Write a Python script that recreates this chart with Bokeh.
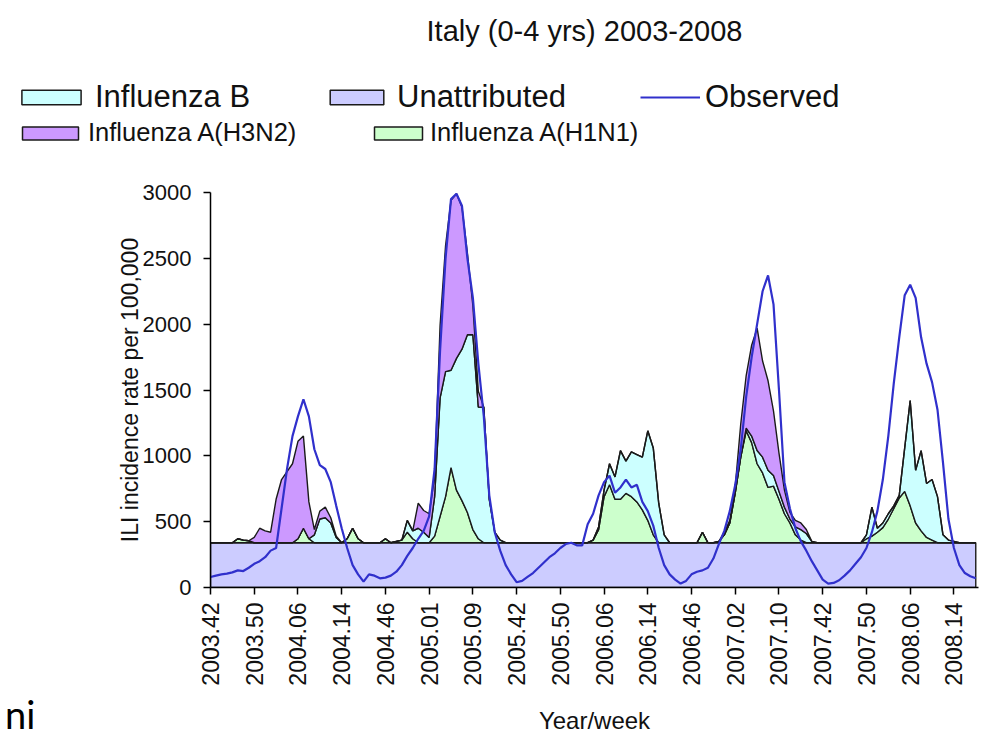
import numpy as np
from bokeh.plotting import figure
from bokeh.layouts import column, row
from bokeh.models import Range1d, FixedTicker, Legend, LegendItem, Label, Div
from bokeh.embed import file_html
from bokeh.resources import INLINE

# ---------------- data (ILI incidence per 100,000, weekly, seasons wk42-wk17) ----------------
tick_labels = ["2003.42", "2003.50", "2004.06", "2004.14", "2004.46", "2005.01",
               "2005.09", "2005.42", "2005.50", "2006.06", "2006.14", "2006.46",
               "2007.02", "2007.10", "2007.42", "2007.50", "2008.06", "2008.14"]
weeks_per_tick = 8

observed = [
    80, 90, 100, 105, 115, 130, 125, 150, 180, 200,
    230, 280, 300, 600, 900, 1150, 1300, 1430, 1300, 1050,
    930, 900, 800, 620, 450, 300, 170, 100, 45, 100,
    90, 70, 75, 90, 120, 170, 240, 300, 370, 430,
    540, 900, 1800, 2500, 2950, 2990, 2900, 2500, 2200, 1700,
    1300, 700, 420, 280, 170, 100, 40, 50, 80, 110,
    150, 190, 230, 260, 300, 330, 340, 320, 320, 480,
    560, 700, 800, 850, 720, 760, 820, 760, 780, 650,
    580, 470, 300, 170, 100, 60, 30, 50, 100, 120,
    130, 150, 220, 330, 430, 580, 780, 1050, 1450, 1750,
    2000, 2250, 2370, 2150, 1500, 800, 600, 450, 350, 280,
    200, 130, 60, 30, 35, 55, 90, 130, 180, 230,
    300, 420, 580, 820, 1150, 1550, 1900, 2220, 2300, 2200,
    1900, 1700, 1560, 1350, 950, 520, 300, 170, 110, 85,
    70]

unattributed = [
    340, 340, 340, 340, 340, 340, 340, 340, 340, 340,
    340, 340, 340, 340, 340, 340, 340, 340, 340, 340,
    340, 340, 340, 340, 340, 340, 340, 340, 340, 340,
    340, 340, 340, 340, 340, 340, 340, 340, 340, 340,
    340, 340, 340, 340, 340, 340, 340, 340, 340, 340,
    340, 340, 340, 340, 340, 340, 340, 340, 340, 340,
    340, 340, 340, 340, 340, 340, 340, 340, 340, 340,
    340, 340, 340, 340, 340, 340, 340, 340, 340, 340,
    340, 340, 340, 340, 340, 340, 340, 340, 340, 340,
    340, 340, 340, 340, 340, 340, 340, 340, 340, 340,
    340, 340, 340, 340, 340, 340, 340, 340, 340, 340,
    340, 340, 340, 340, 340, 340, 340, 340, 340, 340,
    340, 340, 340, 340, 340, 340, 340, 340, 340, 340,
    340, 340, 340, 340, 340, 340, 340, 340, 340, 340,
    340]

h1n1 = [
    0, 0, 0, 0, 0, 30, 20, 15, 0, 0,
    0, 0, 0, 0, 0, 0, 30, 110, 30, 0,
    0, 0, 0, 0, 0, 30, 110, 30, 0, 0,
    0, 0, 30, 0, 10, 20, 80, 30, 0, 0,
    0, 50, 200, 350, 570, 400, 320, 230, 100, 30,
    0, 0, 0, 0, 0, 0, 0, 0, 0, 0,
    0, 0, 0, 0, 0, 0, 0, 0, 0, 0,
    20, 100, 350, 440, 330, 330, 375, 350, 310, 250,
    170, 60, 0, 0, 0, 0, 0, 0, 0, 0,
    80, 0, 0, 10, 60, 150, 380, 650, 850, 760,
    600, 530, 420, 430, 330, 220, 150, 60, 20, 0,
    0, 0, 0, 0, 0, 0, 0, 0, 0, 0,
    30, 50, 80, 115, 180, 260, 340, 390, 280, 150,
    90, 40, 20, 0, 0, 0, 0, 0, 0, 0,
    0]

influenza_b = [
    0, 0, 0, 0, 0, 0, 0, 0, 0, 0,
    0, 0, 0, 0, 0, 0, 0, 0, 0, 60,
    180, 190, 150, 40, 0, 0, 0, 0, 0, 0,
    0, 0, 0, 0, 0, 0, 90, 60, 110, 80,
    40, 300, 900, 950, 740, 1000, 1150, 1350, 1480, 1000,
    1030, 330, 80, 20, 0, 0, 0, 0, 0, 0,
    0, 0, 0, 0, 0, 0, 0, 0, 0, 0,
    0, 20, 50, 160, 170, 370, 245, 340, 360, 400,
    680, 660, 300, 60, 0, 0, 0, 0, 0, 0,
    0, 0, 0, 0, 0, 0, 0, 0, 20, 50,
    100, 120, 130, 80, 60, 50, 30, 60, 80, 70,
    10, 0, 0, 0, 0, 0, 0, 0, 0, 0,
    30, 220, 30, 35, 40, 20, 20, 330, 800, 400,
    610, 410, 460, 350, 60, 20, 10, 0, 0, 0,
    0]

h3n2 = [
    0, 0, 0, 0, 0, 0, 0, 0, 40, 110,
    90, 80, 330, 480, 540, 600, 740, 700, 280, 40,
    60, 80, 40, 10, 0, 0, 0, 0, 0, 0,
    0, 0, 0, 0, 0, 0, 0, 0, 190, 165,
    180, 150, 550, 955, 1290, 1250, 1080, 620, 220, 120,
    0, 0, 0, 0, 0, 0, 0, 0, 0, 0,
    0, 0, 0, 0, 0, 0, 0, 0, 0, 0,
    0, 0, 0, 0, 0, 0, 0, 0, 0, 0,
    0, 0, 0, 0, 0, 0, 0, 0, 0, 0,
    0, 0, 0, 0, 20, 20, 50, 250, 400, 690,
    930, 730, 680, 490, 290, 130, 50, 50, 50, 30,
    0, 0, 0, 0, 0, 0, 0, 0, 0, 0,
    0, 0, 0, 0, 0, 0, 0, 0, 0, 0,
    0, 0, 0, 0, 0, 0, 0, 0, 0, 0,
    0]

# ---------------- styles ----------------
FONT = "Liberation Sans"
TXT = "#111111"
OUTLINE = "#1a1a1a"
colors = {"Unattributed": "#ccccff", "Influenza A(H1N1)": "#ccffcc",
          "Influenza B": "#ccffff", "Influenza A(H3N2)": "#cc99ff"}
OBS_COLOR = "#3030cc"

HEAD_H = 170
MAIN_H = 747 - HEAD_H
STRIP_W = 60

# ---------------- main chart ----------------
n = len(observed)
weeks = np.arange(n)

p = figure(width=987 - STRIP_W, height=MAIN_H, x_range=Range1d(0, 140.5), y_range=Range1d(0, 3000),
           output_backend="svg", toolbar_location=None,
           min_border_left=150, min_border_right=9, min_border_top=192 - HEAD_H,
           min_border_bottom=160)
p.outline_line_color = None
p.grid.visible = False

layers = [("Unattributed", unattributed), ("Influenza A(H1N1)", h1n1),
          ("Influenza B", influenza_b), ("Influenza A(H3N2)", h3n2)]
base = np.zeros(n)
for name, vals in layers:
    top = base + np.asarray(vals, dtype=float)
    xs = np.concatenate([weeks, weeks[::-1]])
    ys = np.concatenate([top, base[::-1]])
    p.patch(xs, ys, fill_color=colors[name], line_color=OUTLINE, line_width=1.4)
    base = top
p.line(weeks, observed, line_color=OBS_COLOR, line_width=2.2)

p.xaxis.ticker = FixedTicker(ticks=[i * weeks_per_tick for i in range(len(tick_labels))])
p.xaxis.major_label_overrides = {i * weeks_per_tick: t for i, t in enumerate(tick_labels)}
p.xaxis.major_label_orientation = np.pi / 2
p.yaxis.ticker = FixedTicker(ticks=[0, 500, 1000, 1500, 2000, 2500, 3000])
for ax in (p.xaxis[0], p.yaxis[0]):
    ax.axis_line_color = "black"
    ax.axis_line_width = 1.5
    ax.major_tick_line_color = "black"
    ax.major_tick_line_width = 1.5
    ax.major_tick_in = 0
    ax.major_tick_out = 7
    ax.minor_tick_line_color = None
    ax.major_label_text_font = FONT
    ax.major_label_text_color = TXT
    ax.axis_label_text_font = FONT
    ax.axis_label_text_font_style = "normal"
    ax.axis_label_text_color = TXT
p.xaxis.major_label_text_font_size = "23px"
p.xaxis.major_label_standoff = 8
p.xaxis.axis_label = "Year/week"
p.xaxis.axis_label_text_font_size = "24px"
p.xaxis.axis_label_standoff = 18
p.yaxis.major_label_text_font_size = "22px"
p.yaxis.major_label_standoff = 12
p.yaxis.axis_label = "ILI incidence rate per 100,000"
p.yaxis.axis_label_text_font_size = "23px"
p.yaxis.axis_label_standoff = -3

# ---------------- header: title + legend ----------------
h = figure(width=987, height=HEAD_H, x_range=Range1d(0, 987), y_range=Range1d(0, HEAD_H),
           output_backend="svg", toolbar_location=None, min_border=0,
           x_axis_location=None, y_axis_location=None)
h.outline_line_color = None
h.grid.visible = False

# legend-only renderers (their data lies outside the visible header range)
dummy = {}
for name in colors:
    dummy[name] = h.patch(x=[-60, -50, -50], y=[-60, -60, -50], fill_color=colors[name],
                          line_color=OUTLINE, line_width=1.5)
dummy["Observed"] = h.line(x=[-60, -50], y=[-60, -60], line_color=OBS_COLOR, line_width=2)

def add_legend(label, x, y, size, gw, gh, standoff):
    leg = Legend(items=[LegendItem(label=label, renderers=[dummy[label]])], location=(x, y),
                 orientation="horizontal", padding=0, margin=0, spacing=0,
                 border_line_color=None, background_fill_alpha=0,
                 glyph_width=gw, glyph_height=gh, label_standoff=standoff,
                 label_height=gh, label_text_font=FONT, label_text_font_size=size,
                 label_text_color=TXT)
    h.add_layout(leg)

row1_y = HEAD_H - 115
row2_y = HEAD_H - 147
add_legend("Influenza B", 14, row1_y, "31px", 74, 18, 7)
add_legend("Unattributed", 323, row1_y, "31px", 67, 18, 7)
add_legend("Observed", 640, row1_y, "31px", 60, 18, 5)
add_legend("Influenza A(H3N2)", 15, row2_y, "25.5px", 70, 16, 3)
add_legend("Influenza A(H1N1)", 368, row2_y, "25.5px", 60, 16, 2)

h.add_layout(Label(x=584, y=HEAD_H - 30, text="Italy (0-4 yrs) 2003-2008",
                   text_align="center", text_baseline="middle", text_font=FONT,
                   text_font_size="29px", text_color=TXT))

# ---------------- left strip: stray slide text ----------------
strip = Div(text="ni", width=STRIP_W, height=MAIN_H,
            styles={"font-family": "Lato", "font-size": "38px", "line-height": "38px",
                    "color": "black", "padding-top": f"{729 - HEAD_H - 34}px",
                    "padding-left": "5px", "margin": "0px", "box-sizing": "border-box",
                    "overflow": "visible"})

layout = column(h, row(strip, p, spacing=0), spacing=0)
open("out.html", "w").write(file_html(layout, INLINE))
